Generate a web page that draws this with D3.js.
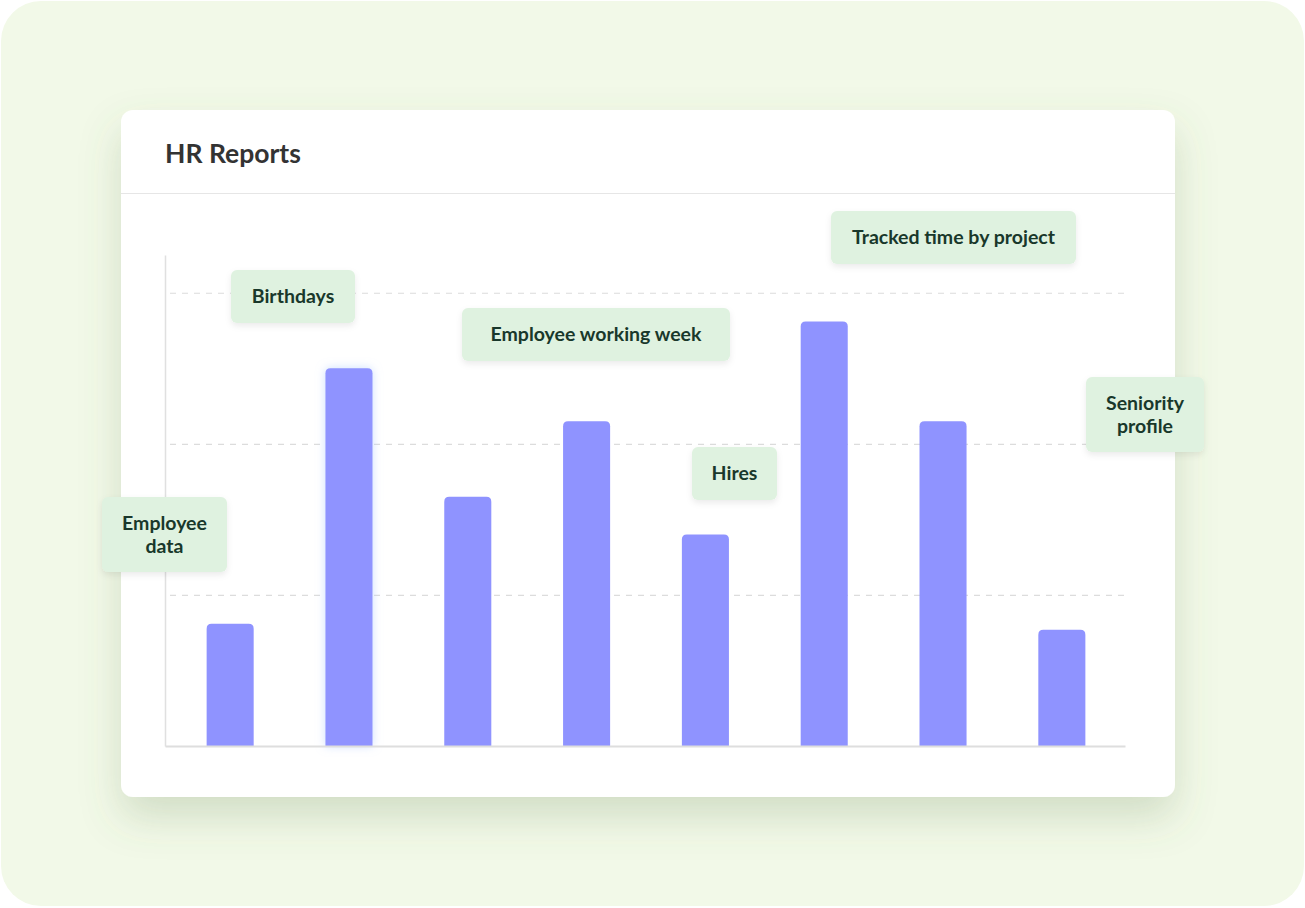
<!DOCTYPE html>
<html>
<head>
<meta charset="utf-8">
<script src="https://cdn.jsdelivr.net/npm/d3@7"></script>
<style>
  body { margin: 0; background: #fff; }
  svg { display: block; font-family: Lato, "Open Sans", sans-serif; }
</style>
</head>
<body>
<div id="container"></div>
<script>
// chart data
var categories = ["r1", "r2", "r3", "r4", "r5", "r6", "r7", "r8"];
var values = [8.1, 25.0, 16.5, 21.5, 14.0, 28.1, 21.5, 7.7];
var gridTicks = [10, 20, 30];
var title = "HR Reports";
var calloutLines = [
    ["Employee", "data"],
    ["Birthdays"],
    ["Employee working week"],
    ["Hires"],
    ["Tracked time by project"],
    ["Seniority", "profile"]
];
// layout of callout boxes: x, y, w, h
var calloutBoxes = [
    [102, 497, 125, 75],
    [231, 270, 124, 53],
    [462, 308, 268, 53],
    [692, 447, 85, 53],
    [831, 211, 245, 53],
    [1086, 377, 118, 75]
];

var width = 1305,
    height = 908;

var svg = d3.select("#container").append("svg")
    .attr("width", width)
    .attr("height", height);

var defs = svg.append("defs");
var cardShadow = defs.append("filter").attr("id", "cardShadow")
    .attr("x", "-10%").attr("y", "-10%").attr("width", "120%").attr("height", "130%");
cardShadow.append("feDropShadow")
    .attr("dx", 0).attr("dy", 20).attr("stdDeviation", 20)
    .attr("flood-color", "#5f7a4a").attr("flood-opacity", 0.22);

var boxShadow = defs.append("filter").attr("id", "boxShadow")
    .attr("x", "-20%").attr("y", "-30%").attr("width", "140%").attr("height", "170%");
boxShadow.append("feDropShadow")
    .attr("dx", 0).attr("dy", 3).attr("stdDeviation", 3)
    .attr("flood-color", "#000").attr("flood-opacity", 0.08);

var glow = defs.append("filter").attr("id", "barGlow")
    .attr("x", "-50%").attr("y", "-10%").attr("width", "200%").attr("height", "120%");
glow.append("feDropShadow")
    .attr("dx", 0).attr("dy", 0).attr("stdDeviation", 5)
    .attr("flood-color", "#a9c8ff").attr("flood-opacity", 0.6);

// background panel
svg.append("rect")
    .attr("x", 1).attr("y", 1)
    .attr("width", width - 2).attr("height", height - 3)
    .attr("rx", 40)
    .attr("fill", "#f2f9e8");

// card
svg.append("rect")
    .attr("x", 121).attr("y", 110)
    .attr("width", 1054).attr("height", 687)
    .attr("rx", 12)
    .attr("fill", "#fff")
    .attr("filter", "url(#cardShadow)");

svg.append("text")
    .attr("x", 165).attr("y", 163)
    .attr("font-size", 26.5)
    .attr("font-weight", 700)
    .attr("fill", "#333")
    .text(title);

svg.append("line")
    .attr("x1", 121).attr("x2", 1175)
    .attr("y1", 193.5).attr("y2", 193.5)
    .attr("stroke", "#e6e6e6")
    .attr("stroke-width", 1);

// scales
var x = d3.scaleBand()
    .domain(categories)
    .range([166, 1126])
    .paddingInner(0.604)
    .paddingOuter(0.342);

var y = d3.scaleLinear()
    .domain([0, 32.5])
    .range([746, 255]);

// gridlines
var grid = svg.append("g")
    .attr("transform", "translate(170,0)")
    .call(d3.axisRight(y).tickValues(gridTicks).tickSize(955).tickFormat(""));
grid.select(".domain").remove();
grid.selectAll(".tick line")
    .attr("stroke", "#dcdcdc")
    .attr("stroke-width", 1.2)
    .attr("stroke-dasharray", "6,6");

// y axis line
var yAxis = svg.append("g")
    .attr("transform", "translate(165,0)")
    .call(d3.axisLeft(y).tickValues([]).tickSizeOuter(0));
yAxis.select(".domain").attr("stroke", "#e0e0e0").attr("stroke-width", 1.5);

// bars, rounded on top
function barPath(d, i) {
    var x0 = x(categories[i]), w = x.bandwidth();
    var top = y(d), bottom = y(0), r = 5;
    return "M" + x0 + "," + bottom +
        "V" + (top + r) +
        "Q" + x0 + "," + top + " " + (x0 + r) + "," + top +
        "H" + (x0 + w - r) +
        "Q" + (x0 + w) + "," + top + " " + (x0 + w) + "," + (top + r) +
        "V" + bottom + "Z";
}

svg.append("g").selectAll("path")
    .data(values)
    .enter().append("path")
    .attr("d", barPath)
    .attr("fill", "#8f93ff")
    .attr("filter", function (d, i) { return i === 1 ? "url(#barGlow)" : null; });

// baseline
var xAxis = svg.append("g")
    .attr("transform", "translate(-1,746)")
    .call(d3.axisBottom(x).tickValues([]).tickSizeOuter(0));
xAxis.select(".domain").attr("stroke", "#dedede").attr("stroke-width", 2);

// callouts
var callout = svg.append("g").selectAll("g")
    .data(calloutLines)
    .enter().append("g")
    .attr("transform", function (d, i) {
        return "translate(" + calloutBoxes[i][0] + "," + calloutBoxes[i][1] + ")";
    });

callout.append("rect")
    .attr("width", function (d, i) { return calloutBoxes[i][2]; })
    .attr("height", function (d, i) { return calloutBoxes[i][3]; })
    .attr("rx", 6)
    .attr("fill", "#dff2e0")
    .attr("filter", "url(#boxShadow)");

callout.each(function (lines, i) {
    var b = calloutBoxes[i];
    var lh = 23;
    var t = d3.select(this).append("text")
        .attr("text-anchor", "middle")
        .attr("font-size", 19.5)
        .attr("font-weight", 700)
        .attr("fill", "#19382b");
    lines.forEach(function (line, k) {
        t.append("tspan")
            .attr("x", b[2] / 2)
            .attr("y", b[3] / 2 + (k - (lines.length - 1) / 2) * lh)
            .attr("dy", "0.35em")
            .text(line);
    });
});
</script>
</body>
</html>
